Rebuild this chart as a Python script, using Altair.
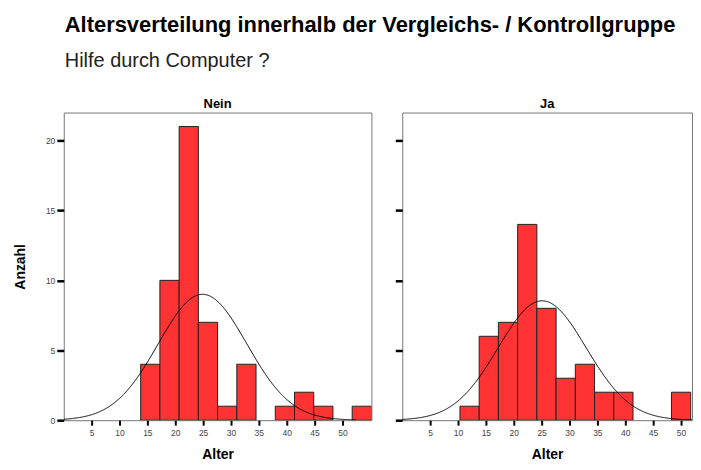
import altair as alt
import pandas as pd

# ---- data ----
bin_lo = [10.35, 13.8, 17.25, 20.7, 24.15, 27.6, 31.05, 34.5, 37.95, 41.4, 44.85, 48.3, 51.75]
bin_width = 3.45
nein_counts = [0, 4, 10, 21, 7, 1, 4, 0, 1, 2, 1, 0, 1]
ja_counts = [1, 6, 7, 14, 8, 3, 4, 2, 2, 0, 0, 2, 0]

# normal curve parameters (mean, sd, n)
nein_fit = {"mu": 24.9, "sd": 7.95, "n": 52}
ja_fit = {"mu": 25.1, "sd": 7.9, "n": 49}

x_ticks = [5, 10, 15, 20, 25, 30, 35, 40, 45, 50]
y_ticks = [0, 5, 10, 15, 20]

FONT = "Liberation Sans"
BAR = "#FF3333"
PX_PER_YEAR = 309 / 55.2


def panel(name, counts, fit, width, show_labels):
    df = pd.DataFrame({"lo": bin_lo, "count": counts})
    df["hi"] = df["lo"] + bin_width
    df = df[df["count"] > 0]

    xscale = alt.Scale(domain=[0, width / PX_PER_YEAR], nice=False, zero=False)
    yscale = alt.Scale(domain=[0, 22], nice=False)
    xaxis = alt.Axis(values=x_ticks, title="Alter", domain=False, grid=False,
                     labelOverlap=False,
                     tickColor="black", tickWidth=2, tickSize=5,
                     labelFontSize=8.5, labelColor="#444", labelPadding=3,
                     titleFontSize=14, titleFontWeight="bold", titlePadding=11,
                     titleColor="black")
    yaxis = alt.Axis(values=y_ticks, title="Anzahl" if show_labels else None,
                     labels=show_labels, domain=False, grid=False,
                     labelOverlap=False,
                     tickColor="black", tickWidth=2.5, tickSize=7,
                     labelFontSize=8.5, labelColor="#444", labelPadding=2,
                     titleFontSize=14, titleFontWeight="bold", titlePadding=18,
                     titleColor="black")

    bars = alt.Chart(df).mark_rect(fill=BAR, stroke="#222", strokeWidth=1, clip=True).encode(
        x=alt.X("lo:Q", scale=xscale, axis=xaxis),
        x2="hi:Q",
        y=alt.Y("count:Q", scale=yscale, axis=yaxis),
        y2=alt.datum(0),
    )

    k = fit["n"] * bin_width / (fit["sd"] * 2.5066282746)
    expr = f"{k}*exp(-0.5*pow((datum.x-{fit['mu']})/{fit['sd']},2))"
    curve = alt.Chart(alt.sequence(0, 52.45, 0.1, as_="x")).transform_calculate(
        y=expr
    ).mark_line(color="black", strokeWidth=1, clip=True).encode(
        x=alt.X("x:Q", scale=xscale, axis=xaxis),
        y=alt.Y("y:Q", scale=yscale, axis=yaxis),
    )

    return alt.layer(bars, curve).properties(
        width=width, height=309,
        title=alt.TitleParams(name, fontSize=13, fontWeight="bold", font=FONT,
                              color="black", anchor="middle", offset=2),
    )


left = panel("Nein", nein_counts, nein_fit, 309, True)
right = panel("Ja", ja_counts, ja_fit, 291, False)

chart = alt.hconcat(left, right, spacing=21).properties(
    title=alt.TitleParams(
        "Altersverteilung innerhalb der Vergleichs- / Kontrollgruppe",
        subtitle="Hilfe durch Computer ?",
        anchor="start", fontSize=22, fontWeight="bold", color="black",
        subtitleFontSize=20, subtitleColor="#222", subtitleFont=FONT,
        font=FONT, dx=52, offset=25, subtitlePadding=14,
    ),
    padding={"left": 5, "top": 5, "right": 0, "bottom": 0},
).configure(font=FONT).configure_view(stroke="#777", strokeWidth=1)

chart.save("out.html", embed_options={"renderer": "svg", "actions": False})
